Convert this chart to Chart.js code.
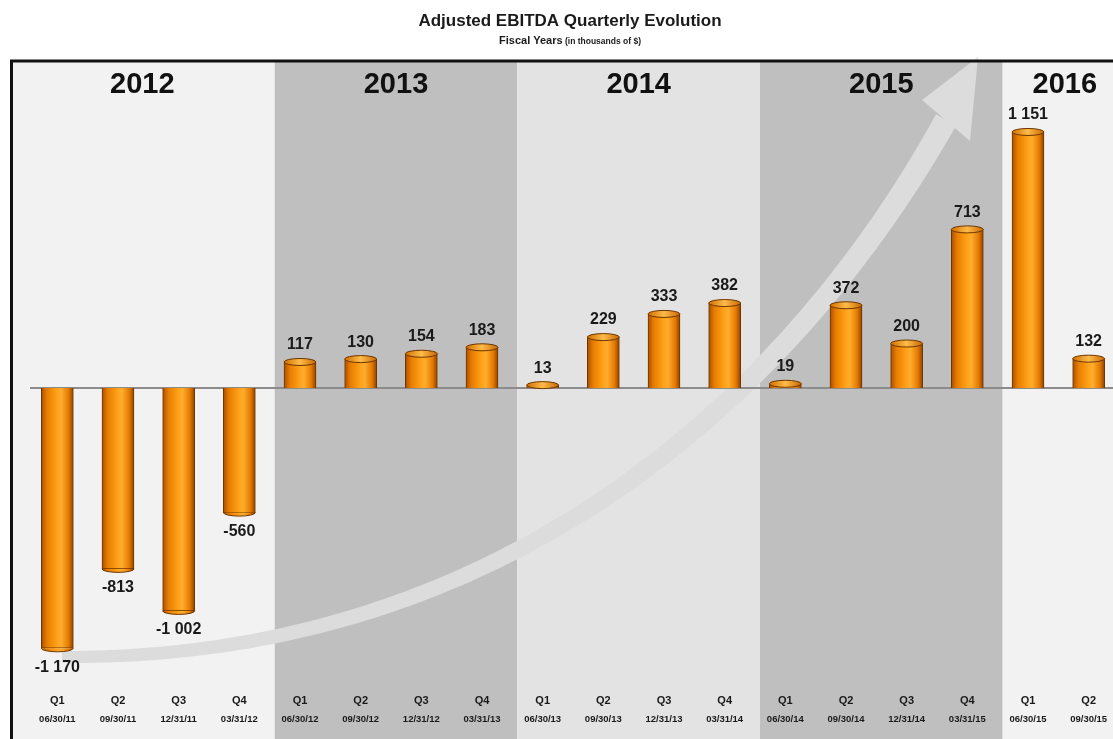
<!DOCTYPE html>
<html>
<head>
<meta charset="utf-8">
<title>Adjusted EBITDA Quarterly Evolution</title>
<script src="https://cdn.jsdelivr.net/npm/chart.js@4.4.1/dist/chart.umd.min.js"></script>
<style>
  html, body { margin: 0; padding: 0; background: #fff; overflow: hidden; }
  #wrap { width: 1113px; height: 739px; position: relative; overflow: hidden; }
</style>
</head>
<body>
<div id="wrap"><canvas id="ebitdaChart" width="1119" height="739"></canvas></div>
<script>
// quarterly data, fiscal years 2012 - 2016 (in thousands of $)
const quarters = ['Q1', 'Q2', 'Q3', 'Q4', 'Q1', 'Q2', 'Q3', 'Q4', 'Q1', 'Q2', 'Q3', 'Q4', 'Q1', 'Q2', 'Q3', 'Q4', 'Q1', 'Q2'];
const periodEnds = ['06/30/11', '09/30/11', '12/31/11', '03/31/12', '06/30/12', '09/30/12', '12/31/12', '03/31/13',
  '06/30/13', '09/30/13', '12/31/13', '03/31/14', '06/30/14', '09/30/14', '12/31/14', '03/31/15', '06/30/15', '09/30/15'];
const ebitda = [-1170, -813, -1002, -560, 117, 130, 154, 183, 13, 229, 333, 382, 19, 372, 200, 713, 1151, 132];
const fiscalYears = ['2012', '2013', '2014', '2015', '2016'];
const yearFirstQuarter = [0, 4, 8, 12, 16];

const FONT = "'Liberation Sans', Arial, sans-serif";
const bandColors = ['#f2f2f2', '#bfbfbf', '#e3e3e3', '#bfbfbf', '#f2f2f2'];
const FRAME_LEFT = 10;
const FRAME_TOP = 61;

// decorative growth arrow (screen coordinates, not data): cubic bezier + head
const arrowCurve = [[62, 657], [500, 660], [790, 400], [946, 120]];
const arrowHead = [[978, 57], [922, 100], [970, 141]];

function fmt(n) {
  const s = Math.abs(n).toString().replace(/\B(?=(\d{3})+(?!\d))/g, ' ');
  return (n < 0 ? '-' : '') + s;
}

function barGradient(ctx, x, w) {
  const g = ctx.createLinearGradient(x - w / 2, 0, x + w / 2, 0);
  g.addColorStop(0, '#a84f00');
  g.addColorStop(0.18, '#e87d00');
  g.addColorStop(0.5, '#ffa31a');
  g.addColorStop(0.62, '#ffad2e');
  g.addColorStop(0.85, '#e47a00');
  g.addColorStop(1, '#8f4200');
  return g;
}

function bezierPoints(c, n) {
  const out = [];
  for (let i = 0; i <= n; i++) {
    const t = i / n, u = 1 - t;
    const a = u * u * u, b = 3 * u * u * t, d = 3 * u * t * t, e = t * t * t;
    out.push([a * c[0][0] + b * c[1][0] + d * c[2][0] + e * c[3][0],
              a * c[0][1] + b * c[1][1] + d * c[2][1] + e * c[3][1]]);
  }
  return out;
}

const backgroundPlugin = {
  id: 'bands',
  beforeDraw(chart) {
    const { ctx, scales: { x } } = chart;
    const H = chart.height;
    ctx.save();
    ctx.fillStyle = '#fff';
    ctx.fillRect(0, 0, chart.width, H);

    const half = (x.getPixelForValue(1) - x.getPixelForValue(0)) / 2;
    fiscalYears.forEach((yr, i) => {
      const first = yearFirstQuarter[i];
      const last = i < fiscalYears.length - 1 ? yearFirstQuarter[i + 1] - 1 : quarters.length - 1;
      const left = i === 0 ? FRAME_LEFT : x.getPixelForValue(first) - half + 5;
      const right = i === fiscalYears.length - 1 ? chart.width : x.getPixelForValue(last) + half + 5;
      ctx.fillStyle = bandColors[i];
      ctx.fillRect(left, FRAME_TOP, right - left, H - FRAME_TOP);
      ctx.fillStyle = '#111';
      ctx.font = 'bold 29px ' + FONT;
      ctx.textAlign = 'center';
      ctx.textBaseline = 'middle';
      const cx = i === fiscalYears.length - 1 ? (left + x.getPixelForValue(last) + half) / 2 + 4 : (left + right) / 2;
      ctx.fillText(yr, cx, 85);
    });

    // growth arrow
    const pts = bezierPoints(arrowCurve, 120);
    const leftSide = [], rightSide = [];
    pts.forEach((p, i) => {
      const a = pts[Math.max(i - 1, 0)], b = pts[Math.min(i + 1, pts.length - 1)];
      let dx = b[0] - a[0], dy = b[1] - a[1];
      const len = Math.hypot(dx, dy) || 1;
      dx /= len; dy /= len;
      const w = (12 + 11 * (i / (pts.length - 1))) / 2;
      leftSide.push([p[0] - dy * w, p[1] + dx * w]);
      rightSide.push([p[0] + dy * w, p[1] - dx * w]);
    });
    ctx.fillStyle = '#dcdcdc';
    ctx.beginPath();
    leftSide.forEach((p, i) => i ? ctx.lineTo(p[0], p[1]) : ctx.moveTo(p[0], p[1]));
    rightSide.reverse().forEach(p => ctx.lineTo(p[0], p[1]));
    ctx.closePath();
    ctx.fill();
    ctx.beginPath();
    ctx.moveTo(arrowHead[0][0], arrowHead[0][1]);
    ctx.lineTo(arrowHead[1][0], arrowHead[1][1]);
    ctx.lineTo(arrowHead[2][0], arrowHead[2][1]);
    ctx.closePath();
    ctx.fill();
    ctx.restore();
  },
  beforeDatasetsDraw(chart) {
    const { ctx, scales: { y } } = chart;
    const y0 = Math.round(y.getPixelForValue(0));
    ctx.save();
    ctx.strokeStyle = '#8c8c8c';
    ctx.lineWidth = 2;
    ctx.beginPath();
    ctx.moveTo(30, y0);
    ctx.lineTo(chart.width, y0);
    ctx.stroke();
    ctx.restore();
  },
  afterDatasetsDraw(chart) {
    const { ctx } = chart;
    const meta = chart.getDatasetMeta(0);
    ctx.save();
    meta.data.forEach((bar, i) => {
      const v = ebitda[i];
      const w = bar.width;
      const rx = w / 2, ry = 3.5;
      ctx.lineWidth = 1;
      ctx.strokeStyle = '#6e3600';
      if (v >= 0) {
        const g = ctx.createLinearGradient(bar.x - rx, 0, bar.x + rx, 0);
        g.addColorStop(0, '#d07000');
        g.addColorStop(0.5, '#ffbb4a');
        g.addColorStop(1, '#c86800');
        ctx.fillStyle = g;
        ctx.beginPath();
        ctx.ellipse(bar.x, bar.y, rx, ry, 0, 0, Math.PI * 2);
        ctx.fill();
        ctx.stroke();
      } else {
        ctx.fillStyle = barGradient(ctx, bar.x, w);
        ctx.beginPath();
        ctx.ellipse(bar.x, bar.y, rx, ry, 0, 0, Math.PI);
        ctx.fill();
        ctx.stroke();
      }
      // value label
      ctx.fillStyle = '#1a1a1a';
      ctx.font = 'bold 16px ' + FONT;
      ctx.textAlign = 'center';
      ctx.textBaseline = 'middle';
      const ly = v >= 0 ? bar.y - 17 : bar.y + 19;
      ctx.fillText(fmt(v), bar.x, ly);
    });
    ctx.restore();
  },
  afterDraw(chart) {
    const { ctx, scales: { x } } = chart;
    ctx.save();
    // titles
    ctx.fillStyle = '#1a1a1a';
    ctx.textAlign = 'center';
    ctx.textBaseline = 'middle';
    ctx.font = 'bold 17px ' + FONT;
    ctx.fillText('Adjusted EBITDA Quarterly Evolution', 570, 21);
    ctx.font = 'bold 11px ' + FONT;
    const part1 = 'Fiscal Years';
    const w1 = ctx.measureText(part1).width;
    ctx.font = 'bold 8.5px ' + FONT;
    const part2 = ' (in thousands of $)';
    const w2 = ctx.measureText(part2).width;
    const sx = 570 - (w1 + w2) / 2;
    ctx.textAlign = 'left';
    ctx.font = 'bold 11px ' + FONT;
    ctx.fillText(part1, sx, 41);
    ctx.font = 'bold 8.5px ' + FONT;
    ctx.fillText(part2, sx + w1, 42);

    // quarter labels
    ctx.textAlign = 'center';
    quarters.forEach((q, i) => {
      const px = x.getPixelForValue(i);
      ctx.font = 'bold 11px ' + FONT;
      ctx.fillText(q, px, 701);
      ctx.font = 'bold 9.5px ' + FONT;
      ctx.fillText(periodEnds[i], px, 719);
    });

    // frame
    ctx.strokeStyle = '#111';
    ctx.lineWidth = 3;
    ctx.beginPath();
    ctx.moveTo(FRAME_LEFT + 1.5, chart.height);
    ctx.lineTo(FRAME_LEFT + 1.5, FRAME_TOP);
    ctx.lineTo(chart.width, FRAME_TOP);
    ctx.stroke();
    ctx.restore();
  }
};

const canvas = document.getElementById('ebitdaChart');
new Chart(canvas, {
  type: 'bar',
  data: {
    labels: quarters.map((q, i) => [q, periodEnds[i]]),
    datasets: [{
      label: 'Adjusted EBITDA',
      data: ebitda,
      backgroundColor: (c) => {
        const chart = c.chart;
        if (!chart.chartArea || c.dataIndex === undefined) return '#f08800';
        const px = chart.scales.x.getPixelForValue(c.dataIndex);
        return barGradient(chart.ctx, px, 32);
      },
      borderColor: '#6e3600',
      borderWidth: 1,
      borderSkipped: 'start',
      barThickness: 32,
    }],
  },
  options: {
    responsive: false,
    animation: false,
    layout: { padding: { left: 27, right: 0, top: FRAME_TOP, bottom: 54 } },
    scales: {
      x: { display: false },
      y: { display: false, min: -1335, max: 1470 },
    },
    plugins: {
      legend: { display: false },
      title: { display: false },
      tooltip: { enabled: false },
    },
  },
  plugins: [backgroundPlugin],
});
</script>
</body>
</html>
